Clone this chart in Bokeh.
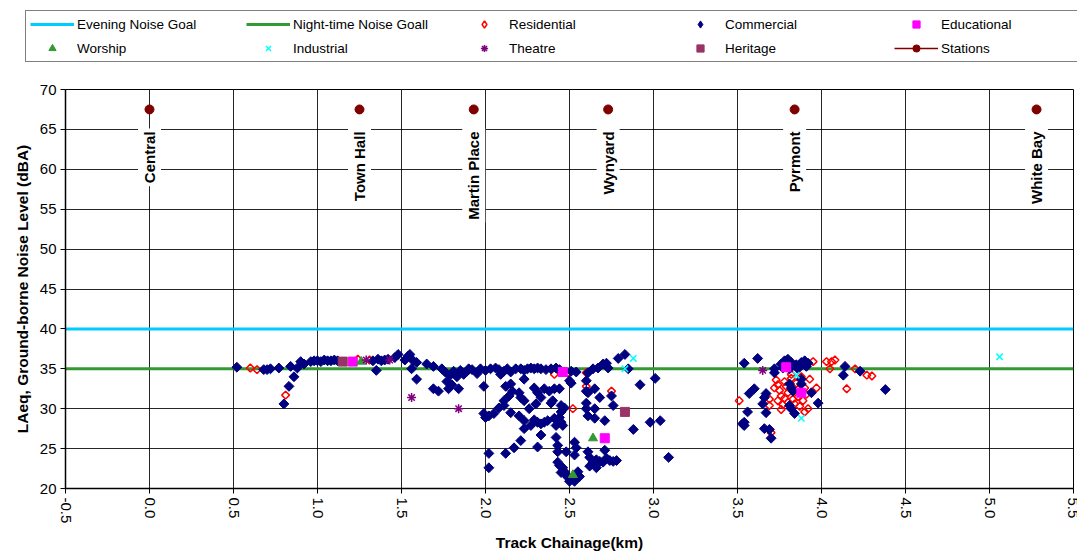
import math
from bokeh.plotting import figure
from bokeh.layouts import column
from bokeh.models import Range1d, FixedTicker, PrintfTickFormatter, Legend, LegendItem
from bokeh.core.properties import value
from bokeh.embed import file_html
from bokeh.resources import INLINE

FONT = "'Liberation Sans', Arial, sans-serif"

# ---------------- data ----------------
x_ticks = [-0.5, 0.0, 0.5, 1.0, 1.5, 2.0, 2.5, 3.0, 3.5, 4.0, 4.5, 5.0, 5.5]
y_ticks = [20, 25, 30, 35, 40, 45, 50, 55, 60, 65, 70]

evening_goal = 40
night_goal = 35

station_names = ["Central", "Town Hall", "Martin Place", "Wynyard", "Pyrmont", "White Bay"]
station_x = [0.0, 1.25, 1.93, 2.73, 3.84, 5.28]
station_y = [67.5, 67.5, 67.5, 67.5, 67.5, 67.5]

residential_pts = [
    (0.60, 35.1), (0.64, 34.9), (0.81, 31.7), (1.24, 36.2), (1.31, 36.1),
    (2.41, 34.3), (2.49, 34.5), (2.60, 34.5), (2.60, 32.8), (2.75, 32.2), (2.52, 30.0),
    (3.51, 31.0), (3.69, 31.2), (3.69, 30.4), (3.70, 27.0), (3.95, 35.9), (3.97, 32.6),
    (3.93, 33.7), (4.03, 35.9), (4.06, 35.9), (4.08, 36.1), (4.05, 35.0), (4.20, 35.0),
    (4.27, 34.2), (4.30, 34.1), (4.15, 32.5),
    (3.74, 33.0), (3.75, 32.3), (3.76, 31.6), (3.74, 31.0), (3.77, 30.5), (3.78, 33.4),
    (3.79, 32.8), (3.80, 32.0), (3.78, 31.3), (3.80, 30.8), (3.82, 33.8), (3.83, 31.2),
    (3.84, 30.6), (3.85, 33.2), (3.86, 32.4), (3.86, 31.5), (3.87, 30.3), (3.89, 31.0),
    (3.90, 32.6), (3.91, 31.8), (3.92, 30.0), (3.90, 29.6), (3.76, 29.9), (3.72, 32.6),
    (3.73, 33.6), (3.88, 34.0), (3.82, 34.3),
]

commercial_pts = [
    (0.52, 35.2), (0.68, 34.9), (0.70, 34.9), (0.72, 35.0), (0.77, 35.1), (0.80, 30.6),
    (0.83, 32.8), (0.84, 35.3), (0.86, 34.0), (0.88, 35.1), (0.90, 35.9), (0.92, 35.6),
    (0.96, 35.9), (0.98, 36.0), (1.00, 36.0), (1.02, 35.9), (1.04, 36.1), (1.06, 36.0),
    (1.08, 36.0), (1.10, 36.1), (1.12, 36.0),
    (1.33, 36.0), (1.35, 34.8), (1.36, 36.2), (1.38, 36.0), (1.40, 36.1), (1.42, 36.2),
    (1.46, 36.4), (1.48, 36.8), (1.52, 36.1), (1.54, 36.6), (1.55, 36.8), (1.56, 35.0),
    (1.57, 36.0), (1.59, 35.8), (1.59, 33.7), (1.65, 35.6), (1.69, 35.3), (1.69, 32.5),
    (1.72, 32.2), (1.74, 35.0), (1.76, 34.6), (1.77, 33.4), (1.78, 32.5), (1.79, 34.2),
    (1.80, 33.0), (1.81, 34.7), (1.83, 34.0), (1.84, 32.5), (1.85, 34.8), (1.87, 34.3),
    (1.89, 34.7), (1.90, 35.0),
    (1.92, 34.9), (1.95, 34.4), (1.97, 35.0), (2.00, 34.8), (2.03, 35.0), (2.06, 35.1),
    (2.08, 34.9), (2.09, 34.3), (2.11, 34.7), (2.13, 35.0), (2.15, 34.6), (2.18, 35.0),
    (2.21, 35.0), (2.23, 34.8), (2.25, 35.0), (2.27, 35.1), (2.29, 35.0), (2.31, 35.1),
    (2.33, 35.0), (2.36, 34.9), (2.39, 35.0), (2.42, 35.1), (2.44, 34.9), (2.51, 34.7),
    (2.54, 34.6),
    (1.99, 32.8), (1.99, 29.4), (2.00, 28.9), (2.02, 29.1), (2.05, 29.4), (2.02, 24.4),
    (2.02, 22.6), (2.08, 30.1), (2.11, 30.4), (2.11, 31.0), (2.12, 32.8), (2.14, 31.6),
    (2.15, 33.1), (2.16, 32.2), (2.15, 29.5), (2.12, 24.4), (2.17, 25.1),
    (2.20, 32.0), (2.21, 31.4), (2.23, 31.0), (2.20, 29.1), (2.23, 28.5), (2.23, 27.5),
    (2.21, 26.0), (2.23, 33.7), (2.26, 30.0), (2.29, 32.6), (2.31, 32.0), (2.33, 31.4),
    (2.30, 30.6), (2.29, 28.6), (2.31, 28.3), (2.33, 28.1), (2.35, 28.3), (2.37, 28.5),
    (2.33, 26.7), (2.31, 25.2), (2.27, 27.9),
    (2.35, 32.5), (2.38, 32.2), (2.41, 32.5), (2.44, 32.5), (2.40, 31.0), (2.39, 30.7),
    (2.41, 28.8), (2.44, 28.9), (2.45, 28.3), (2.42, 27.9), (2.42, 26.4), (2.43, 25.4),
    (2.43, 24.6), (2.45, 30.4), (2.47, 30.1), (2.45, 29.6), (2.46, 27.9), (2.48, 24.6),
    (2.43, 23.3), (2.44, 22.9), (2.46, 22.6), (2.47, 22.1), (2.48, 21.7), (2.49, 21.4),
    (2.50, 20.9), (2.45, 22.0), (2.50, 33.5), (2.51, 33.2),
    (2.53, 25.8), (2.54, 25.1), (2.53, 24.2), (2.55, 22.1), (2.56, 21.5), (2.53, 20.9),
    (2.60, 33.5), (2.60, 32.2), (2.61, 32.0), (2.60, 30.7), (2.61, 29.1), (2.60, 30.0),
    (2.65, 32.5), (2.68, 31.4), (2.65, 30.0), (2.65, 28.8), (2.71, 28.5), (2.75, 31.6),
    (2.76, 30.4), (2.61, 34.5), (2.64, 35.0), (2.67, 35.1), (2.70, 35.6), (2.72, 35.7),
    (2.73, 35.1), (2.79, 36.3), (2.83, 36.8), (2.85, 35.0),
    (2.61, 24.6), (2.62, 23.9), (2.64, 23.3), (2.66, 23.6), (2.68, 23.4), (2.70, 23.3),
    (2.72, 23.8), (2.74, 23.5), (2.76, 23.4), (2.78, 23.5), (2.62, 22.8), (2.66, 22.6),
    (2.71, 24.8), (2.88, 27.4), (2.92, 33.0), (2.98, 28.3), (3.04, 28.5), (3.01, 33.8),
    (3.09, 23.9),
    (3.54, 35.7), (3.62, 36.3), (3.57, 31.9), (3.60, 32.5), (3.67, 31.9), (3.66, 31.4),
    (3.65, 30.6), (3.67, 29.5), (3.56, 29.6), (3.54, 28.3), (3.54, 27.9), (3.53, 28.1),
    (3.66, 27.5), (3.69, 27.4), (3.70, 26.3), (3.72, 35.0), (3.72, 34.5),
    (3.76, 35.6), (3.78, 36.0), (3.80, 36.2), (3.82, 35.8), (3.85, 35.5), (3.88, 35.8),
    (3.90, 36.0), (3.92, 35.7), (3.77, 35.1), (3.81, 35.0), (3.86, 35.0), (3.91, 35.3),
    (3.81, 33.1), (3.82, 32.6), (3.83, 32.2), (3.88, 33.7), (3.88, 33.1), (3.94, 32.0),
    (3.98, 30.7), (3.81, 30.4), (3.82, 30.0), (3.84, 29.4),
    (4.14, 35.3), (4.13, 34.2), (4.23, 34.7), (4.38, 32.4),
]

educational_pts = [(1.21, 35.9), (2.46, 34.6), (2.71, 26.3), (3.79, 35.2), (3.88, 32.0)]
worship_pts = [(1.26, 35.9), (2.64, 26.3), (2.52, 21.7)]
industrial_pts = [(2.88, 36.3), (2.83, 35.0), (3.85, 34.2), (3.88, 28.8), (5.06, 36.5)]
theatre_pts = [(1.29, 36.1), (1.43, 36.1), (1.56, 31.4), (1.84, 30.0), (3.65, 34.8)]
heritage_pts = [(1.15, 35.9), (2.83, 29.6)]


def xs(pts):
    return [p[0] for p in pts]


def ys(pts):
    return [p[1] for p in pts]


# ---------------- styles ----------------
STYLE_EVEN = dict(line_color="#00CCFF", line_width=3)
STYLE_NIGHT = dict(line_color="#339933", line_width=3)
STYLE_RES = dict(marker="square", angle=math.pi / 4, size=5.5, fill_color=None,
                 line_color="#FF0000", line_width=1.5)
STYLE_COM = dict(marker="square", angle=math.pi / 4, size=7, fill_color="#000080",
                 line_color="#000080")
STYLE_EDU = dict(marker="square", size=9, fill_color="#FF00FF", line_color="#FF00FF")
STYLE_WOR = dict(marker="triangle", size=9, fill_color="#339933", line_color="#339933")
STYLE_IND = dict(marker="x", size=9, line_color="#00FFFF", line_width=1.5)
STYLE_THE = dict(marker="asterisk", size=9, line_color="#800080", line_width=1.5)
STYLE_HER = dict(marker="square", size=9, fill_color="#993366", line_color="#993366")
STYLE_ST_LINE = dict(line_color="#800000", line_width=1.5)
STYLE_ST = dict(marker="circle", size=9, fill_color="#800000", line_color="#800000")
# legend swatches (the legend does not rotate markers, so diamonds are drawn as diamonds)
LEG_RES = dict(STYLE_RES, marker="diamond", angle=0)
LEG_COM = dict(STYLE_COM, marker="diamond", angle=0)

# ---------------- main figure ----------------
p = figure(width=1077, height=475, output_backend="svg", toolbar_location=None,
           x_range=Range1d(x_ticks[0], x_ticks[-1]), y_range=Range1d(y_ticks[0], y_ticks[-1]),
           min_border_left=65, min_border_right=4, min_border_top=10, min_border_bottom=60)
p.background_fill_color = "white"
p.border_fill_color = "white"
p.outline_line_color = "black"
p.outline_line_width = 1

p.xgrid.grid_line_color = "black"
p.ygrid.grid_line_color = "black"
p.xgrid.grid_line_alpha = 0.85
p.ygrid.grid_line_alpha = 0.85

x_span = [x_ticks[0], x_ticks[-1]]
p.line(x_span, [evening_goal, evening_goal], **STYLE_EVEN)
p.line(x_span, [night_goal, night_goal], **STYLE_NIGHT)
p.scatter(xs(residential_pts), ys(residential_pts), **STYLE_RES)
p.scatter(xs(commercial_pts), ys(commercial_pts), **STYLE_COM)
p.scatter(xs(educational_pts), ys(educational_pts), **STYLE_EDU)
p.scatter(xs(worship_pts), ys(worship_pts), **STYLE_WOR)
p.scatter(xs(industrial_pts), ys(industrial_pts), **STYLE_IND)
p.scatter(xs(theatre_pts), ys(theatre_pts), **STYLE_THE)
p.scatter(xs(heritage_pts), ys(heritage_pts), **STYLE_HER)
p.scatter(station_x, station_y, **STYLE_ST)

p.text(x=station_x, y=station_y, text=station_names, angle=math.pi / 2,
       text_align="right", text_baseline="middle", y_offset=19,
       text_font=value(FONT), text_font_style="bold", text_font_size="15px",
       text_color="black", background_fill_color="white", padding=3)

p.xaxis.ticker = FixedTicker(ticks=x_ticks)
p.xaxis.formatter = PrintfTickFormatter(format="%.1f")
p.xaxis.major_label_orientation = "vertical"
p.yaxis.ticker = FixedTicker(ticks=y_ticks)
p.xaxis.axis_label = "Track Chainage(km)"
p.yaxis.axis_label = "LAeq, Ground-borne Noise Level (dBA)"
for ax in (p.xaxis[0], p.yaxis[0]):
    ax.axis_line_color = "black"
    ax.axis_line_width = 1.5
    ax.major_tick_line_color = "black"
    ax.minor_tick_line_color = None
    ax.major_tick_out = 5
    ax.major_tick_in = 0
    ax.major_label_standoff = 4
    ax.major_label_text_font = FONT
    ax.major_label_text_font_size = "15px"
    ax.major_label_text_color = "black"
    ax.axis_label_text_font = FONT
    ax.axis_label_text_font_style = "bold"
    ax.axis_label_text_font_size = "15.5px"
    ax.axis_label_text_color = "black"
p.xaxis.axis_label_standoff = 8
p.yaxis.axis_label_standoff = 6

# ---------------- legend strip ----------------
lf = figure(width=1077, height=79, output_backend="svg", toolbar_location=None,
            x_range=Range1d(0, 1), y_range=Range1d(0, 1),
            x_axis_location=None, y_axis_location=None,
            min_border_left=0, min_border_right=0, min_border_top=0, min_border_bottom=0)
lf.frame_align = False
lf.grid.visible = False
lf.outline_line_color = None
lf.background_fill_color = "white"
lf.border_fill_color = "white"

nan2 = [math.nan, math.nan]
l_even = lf.line(nan2, nan2, **STYLE_EVEN)
l_night = lf.line(nan2, nan2, **STYLE_NIGHT)
l_res = lf.scatter(nan2, nan2, **LEG_RES)
l_com = lf.scatter(nan2, nan2, **LEG_COM)
l_edu = lf.scatter(nan2, nan2, **STYLE_EDU)
l_wor = lf.scatter(nan2, nan2, **STYLE_WOR)
l_ind = lf.scatter(nan2, nan2, **STYLE_IND)
l_the = lf.scatter(nan2, nan2, **STYLE_THE)
l_her = lf.scatter(nan2, nan2, **STYLE_HER)
l_st_line = lf.line(nan2, nan2, **STYLE_ST_LINE)
l_st = lf.scatter(nan2, nan2, **STYLE_ST)

items = [
    LegendItem(label="Evening Noise Goal", renderers=[l_even]),
    LegendItem(label="Night-time Noise Goall", renderers=[l_night]),
    LegendItem(label="Residential", renderers=[l_res]),
    LegendItem(label="Commercial", renderers=[l_com]),
    LegendItem(label="Educational", renderers=[l_edu]),
    LegendItem(label="Worship", renderers=[l_wor]),
    LegendItem(label="Industrial", renderers=[l_ind]),
    LegendItem(label="Theatre", renderers=[l_the]),
    LegendItem(label="Heritage", renderers=[l_her]),
    LegendItem(label="Stations", renderers=[l_st_line, l_st]),
]
legend = Legend(items=items, orientation="horizontal", ncols=5, location=(25, 17),
                padding=4, spacing=6, margin=0, glyph_width=44, glyph_height=18,
                label_height=18, label_width=163, label_standoff=3,
                label_text_font=FONT, label_text_font_size="13.5px", label_text_color="black",
                border_line_color="black", border_line_width=1, background_fill_color="white",
                background_fill_alpha=1)
lf.add_layout(legend)

layout = column(lf, p, spacing=0)
open("out.html", "w").write(file_html(layout, INLINE))
